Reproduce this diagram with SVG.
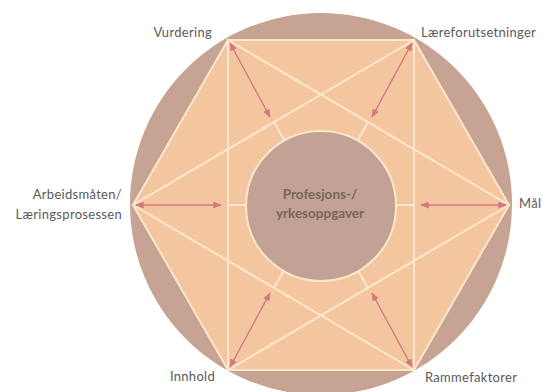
<svg xmlns="http://www.w3.org/2000/svg" width="545" height="392" viewBox="0 0 545 392">
<defs>
<style>
.bg{fill:#ffffff}
.outer{fill:#c6a393}
.hex{fill:#f4c6a0}
.ln{stroke:#fbe8cc;stroke-width:2;fill:none;stroke-linecap:round}
.arr{stroke:#d47780;stroke-width:1.4;fill:none;marker-start:url(#ah);marker-end:url(#ah)}
.core{fill:#c2a295;stroke:#fbe8cc;stroke-width:2}
.lbl{font-family:Lato,"Open Sans","Liberation Sans",sans-serif;font-size:13px;letter-spacing:0.3px;fill:#5a5a5a}
.ctr{font-family:Lato,"Open Sans","Liberation Sans",sans-serif;font-size:13.5px;font-weight:bold;fill:#7c6659;text-anchor:middle}
</style>
<marker id="ah" viewBox="0 0 12 10" refX="11" refY="5" markerWidth="9" markerHeight="7" markerUnits="userSpaceOnUse" orient="auto-start-reverse">
<path d="M0,0 L12,5 L0,10 Z" fill="#d47780"/>
</marker>
</defs>
<rect class="bg" x="0" y="0" width="545" height="392"/>
<circle class="outer" cx="321" cy="204" r="191"/>
<polygon class="hex" points="228,40 414,40 509,205 414,370 228,370 133,205"/>
<g id="connectors">
<polygon class="ln" points="228,40 414,40 509,205 414,370 228,370 133,205"/>
<polygon class="ln" points="228,40 509,205 228,370"/>
<polygon class="ln" points="414,40 133,205 414,370"/>
<line class="ln" x1="274" y1="122" x2="321" y2="206"/>
<line class="ln" x1="368" y1="122" x2="321" y2="206"/>
<line class="ln" x1="274" y1="288" x2="321" y2="206"/>
<line class="ln" x1="368" y1="288" x2="321" y2="206"/>
<line class="ln" x1="228" y1="205" x2="321" y2="205"/>
<line class="ln" x1="414" y1="205" x2="321" y2="205"/>
<line class="arr" x1="230" y1="43" x2="270" y2="117"/>
<line class="arr" x1="412" y1="43" x2="372" y2="117"/>
<line class="arr" x1="230" y1="367" x2="270" y2="293"/>
<line class="arr" x1="412" y1="367" x2="372" y2="293"/>
<line class="arr" x1="136" y1="205" x2="221" y2="205"/>
<line class="arr" x1="506" y1="205" x2="421" y2="205"/>
</g>
<g id="center">
<circle class="core" cx="321" cy="206" r="75"/>
<text class="ctr" x="320" y="199">Profesjons-/</text>
<text class="ctr" x="320" y="218">yrkesoppgaver</text>
</g>
<g id="vurdering"><text class="lbl" x="212" y="37" text-anchor="end">Vurdering</text></g>
<g id="laereforutsetninger"><text class="lbl" x="421" y="37">Læreforutsetninger</text></g>
<g id="arbeidsmaten"><text class="lbl" x="122" y="199" text-anchor="end">Arbeidsmåten/</text><text class="lbl" x="122" y="219" text-anchor="end">Læringsprosessen</text></g>
<g id="maal"><text class="lbl" x="519" y="208">Mål</text></g>
<g id="innhold"><text class="lbl" x="215" y="381" text-anchor="end">Innhold</text></g>
<g id="rammefaktorer"><text class="lbl" x="425" y="382">Rammefaktorer</text></g>
</svg>
